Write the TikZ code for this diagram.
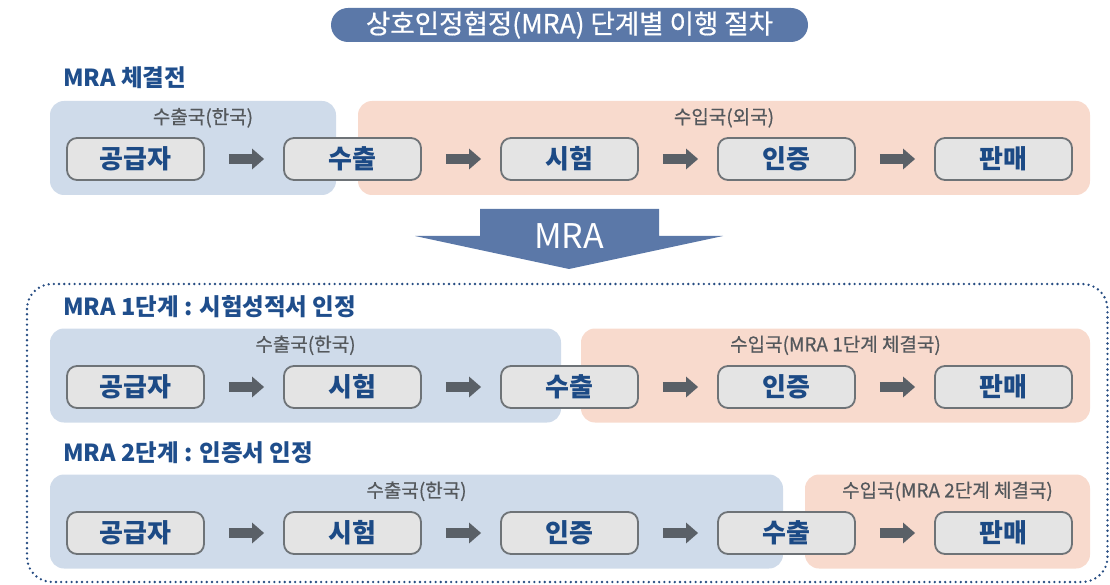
\documentclass[tikz,border=0pt]{standalone}
\usepackage{fontspec}
\setmainfont{Noto Sans CJK KR}
\newfontfamily\medfont[FakeBold=0.6]{Noto Sans CJK KR}
\usetikzlibrary{arrows.meta, positioning}
\definecolor{titleblue}{HTML}{5B78A8}
\definecolor{headblue}{HTML}{1F4E8C}
\definecolor{textblue}{HTML}{1C4A85}
\definecolor{regblue}{HTML}{CFDBEA}
\definecolor{regpink}{HTML}{F8DACD}
\definecolor{boxfill}{HTML}{E4E4E4}
\definecolor{boxline}{HTML}{6E7377}
\definecolor{arrowgray}{HTML}{5A6067}
\definecolor{labelgray}{HTML}{54585C}
\definecolor{dotblue}{HTML}{264C82}
\tikzstyle{stepbox} = [
    rectangle,
    rounded corners=10pt,
    minimum width=137pt,
    minimum height=42pt,
    draw=boxline,
    line width=1.8pt,
    fill=boxfill,
    text=textblue,
    font=\bfseries\fontsize{26}{26}\selectfont
]
\tikzstyle{region} = [
    rectangle,
    rounded corners=14pt,
    minimum height=94pt,
    inner sep=0pt
]
\tikzstyle{rlabel} = [
    text=labelgray,
    font=\medfont\fontsize{19}{19}\selectfont
]
\tikzstyle{heading} = [
    anchor=west,
    inner sep=0pt,
    text=headblue,
    font=\bfseries\fontsize{23.5}{23.5}\selectfont
]
\tikzstyle{titlepill} = [
    rectangle,
    rounded corners=17pt,
    minimum width=477pt,
    minimum height=34pt,
    fill=titleblue,
    text=white,
    font=\medfont\fontsize{26.5}{26.5}\selectfont
]
\tikzstyle{arrow} = [draw=arrowgray, line width=10pt,
    -{Triangle[length=12pt,width=20pt]}, shorten <=24pt, shorten >=19pt]
\begin{document}
\begin{tikzpicture}[x=1pt, y=-1pt, node distance=217pt]
\useasboundingbox (0,0) rectangle (1110,585);

\node (title) [titlepill] at (569.5,25) {상호인정협정(MRA) 단계별 이행 절차};

% MRA 체결전
\node (head0) [heading] at (63,78) {MRA 체결전};

\node (home0) [region, fill=regblue, minimum width=286pt] at (193,148) {};
\node (abroad0) [region, fill=regpink, minimum width=732pt] at (724,148) {};
\node (home0label) [rlabel, yshift=-17pt, xshift=10pt] at (home0.north) {수출국(한국)};
\node (abroad0label) [rlabel, yshift=-17pt] at (abroad0.north) {수입국(외국)};

\node (supply0) [stepbox] at (135.5,159) {공급자};
\node (export0) [stepbox, right of=supply0] {수출};
\node (test0) [stepbox, right of=export0] {시험};
\node (cert0) [stepbox, right of=test0] {인증};
\node (sale0) [stepbox, right of=cert0] {판매};

\draw [arrow] (supply0) -- (export0);
\draw [arrow] (export0) -- (test0);
\draw [arrow] (test0) -- (cert0);
\draw [arrow] (cert0) -- (sale0);

% MRA arrow
\fill [titleblue] (480,209) -- (659,209) -- (659,236) -- (723,236)
    -- (569,269) -- (415,236) -- (480,236) -- cycle;
\node (mra) [text=white, font=\fontsize{34}{34}\selectfont] at (569,236) {MRA};

\draw [dotblue, line width=2.6pt, line cap=round, dash pattern=on 0pt off 5.2pt,
    rounded corners=25pt] (27,284) rectangle (1107.5,582);

% MRA 1단계
\node (head1) [heading] at (63,307) {MRA 1단계 : 시험성적서 인정};

\node (home1) [region, fill=regblue, minimum width=511pt] at (305.5,375.5) {};
\node (abroad1) [region, fill=regpink, minimum width=509pt] at (835.5,375.5) {};
\node (home1label) [rlabel, yshift=-17pt] at (home1.north) {수출국(한국)};
\node (abroad1label) [rlabel, yshift=-17pt] at (abroad1.north) {수입국(MRA 1단계 체결국)};

\node (supply1) [stepbox] at (135.5,387) {공급자};
\node (test1) [stepbox, right of=supply1] {시험};
\node (export1) [stepbox, right of=test1] {수출};
\node (cert1) [stepbox, right of=export1] {인증};
\node (sale1) [stepbox, right of=cert1] {판매};

\draw [arrow] (supply1) -- (test1);
\draw [arrow] (test1) -- (export1);
\draw [arrow] (export1) -- (cert1);
\draw [arrow] (cert1) -- (sale1);

% MRA 2단계
\node (head2) [heading] at (63,453) {MRA 2단계 : 인증서 인정};

\node (home2) [region, fill=regblue, minimum width=733pt] at (416.5,521.5) {};
\node (abroad2) [region, fill=regpink, minimum width=285pt] at (947.5,521.5) {};
\node (home2label) [rlabel, yshift=-17pt] at (home2.north) {수출국(한국)};
\node (abroad2label) [rlabel, yshift=-17pt] at (abroad2.north) {수입국(MRA 2단계 체결국)};

\node (supply2) [stepbox] at (135.5,533) {공급자};
\node (test2) [stepbox, right of=supply2] {시험};
\node (cert2) [stepbox, right of=test2] {인증};
\node (export2) [stepbox, right of=cert2] {수출};
\node (sale2) [stepbox, right of=export2] {판매};

\draw [arrow] (supply2) -- (test2);
\draw [arrow] (test2) -- (cert2);
\draw [arrow] (cert2) -- (export2);
\draw [arrow] (export2) -- (sale2);

\end{tikzpicture}
\end{document}
